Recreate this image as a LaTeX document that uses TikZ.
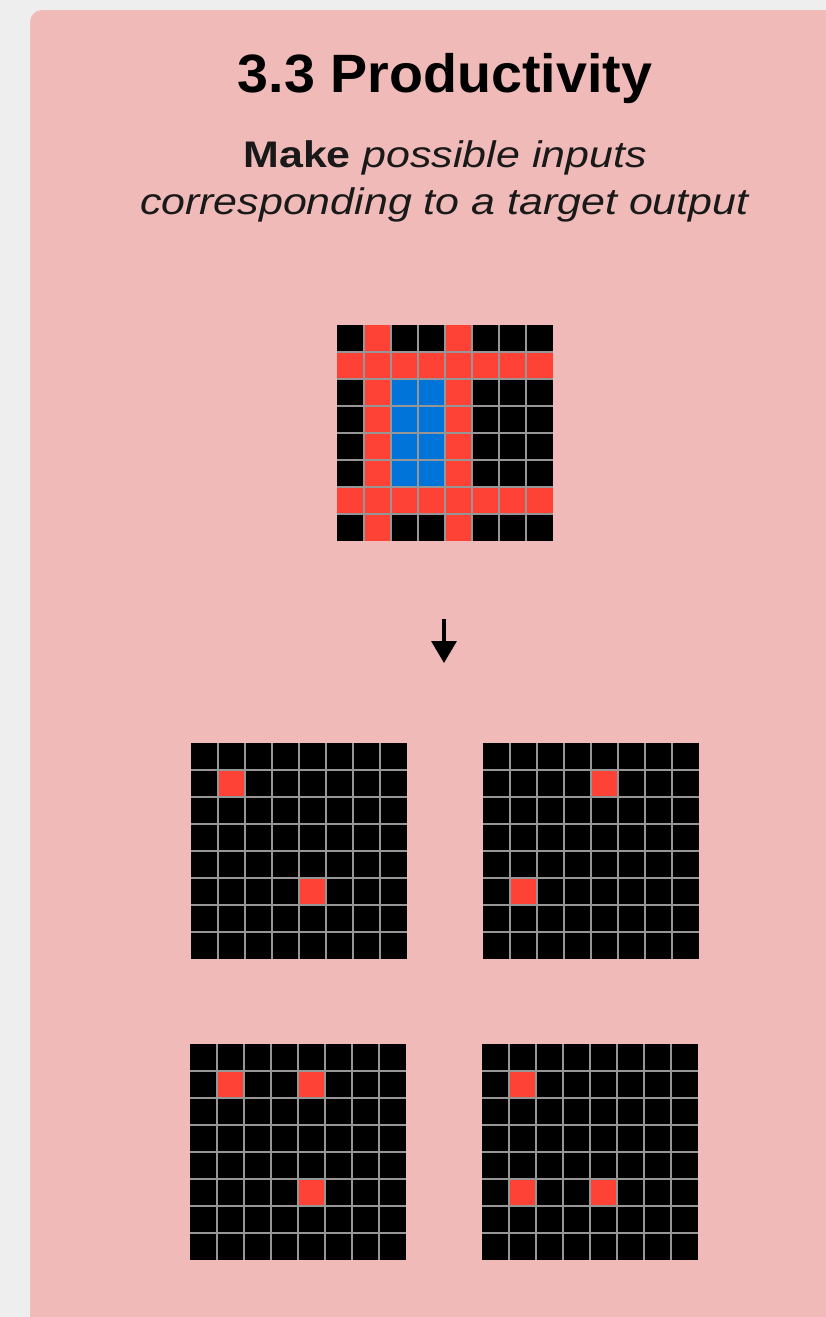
\documentclass[tikz,border=0pt]{standalone}
\usepackage{fontspec}
\setmainfont{Liberation Sans}
\newfontfamily\subfont[FakeStretch=1.16]{Liberation Sans}
\newfontfamily\titlefont[FakeStretch=1.03]{Liberation Sans}
\usetikzlibrary{arrows.meta}
\definecolor{pagebg}{HTML}{EEEEEE}
\definecolor{cardbg}{HTML}{F0BAB9}
\definecolor{arcred}{HTML}{FF4136}
\definecolor{arcblue}{HTML}{0074D9}
\definecolor{arcblack}{HTML}{000000}
\definecolor{gridgray}{HTML}{969696}
\tikzset{
  gridline/.style={draw=gridgray, line width=1.2pt},
  titletext/.style={font=\titlefont\fontsize{54}{62}\selectfont\bfseries, text=black, inner sep=0pt, anchor=base},
  subtext/.style={font=\subfont\fontsize{37}{44}\selectfont, text=black!90, inner sep=0pt, anchor=base},
  downarrow/.style={line width=3.2pt, -{Triangle[width=25pt,length=22pt]}}
}
% #1,#2 = top-left corner, #3 = red cells row/col, #4 = blue cells row/col
\newcommand\arcgrid[4]{%
  \fill[arcblack] (#1,#2) rectangle ++(216,216);
  \foreach \r/\c in {#3} \fill[arcred] ({#1+\c*27},{#2+\r*27}) rectangle ++(27,27);
  \foreach \r/\c in {#4} \fill[arcblue] ({#1+\c*27},{#2+\r*27}) rectangle ++(27,27);
  \foreach \i in {1,...,7} {
    \draw[gridline] ({#1+\i*27},#2) -- ++(0,216);
    \draw[gridline] (#1,{#2+\i*27}) -- ++(216,0);
  }
}
\begin{document}
\begin{tikzpicture}[x=1pt,y=-1pt]
  \useasboundingbox (0,0) rectangle (826,1317);
  \fill[pagebg] (0,0) rectangle (826,1317);
  \fill[cardbg, rounded corners=12pt] (30,10) -- (850,10) -- (850,1340) -- (30,1340) -- cycle;
  \fill[cardbg] (600,10) rectangle (826,1317);
  \fill[cardbg] (30,600) rectangle (826,1317);

  \node[titletext] (title) at (445,92) {3.3 Productivity};
  \node[subtext] (sub1) at (445,167) {\textbf{Make} \textit{possible inputs}};
  \node[subtext] (sub2) at (445,214) {\textit{corresponding to a target output}};

  % target output grid
  \arcgrid{337}{325}{0/1,0/4,1/0,1/1,1/2,1/3,1/4,1/5,1/6,1/7,2/1,2/4,3/1,3/4,4/1,4/4,5/1,5/4,6/0,6/1,6/2,6/3,6/4,6/5,6/6,6/7,7/1,7/4}{2/2,2/3,3/2,3/3,4/2,4/3,5/2,5/3}

  \coordinate (arrowtop) at (444,619);
  \coordinate (arrowtip) at (444,663);
  \draw[downarrow] (arrowtop) -- (arrowtip);

  % possible inputs
  \arcgrid{191}{743}{1/1,5/4}{}
  \arcgrid{483}{743}{1/4,5/1}{}
  \arcgrid{190}{1044}{1/1,1/4,5/4}{}
  \arcgrid{482}{1044}{1/1,5/1,5/4}{}
\end{tikzpicture}
\end{document}
